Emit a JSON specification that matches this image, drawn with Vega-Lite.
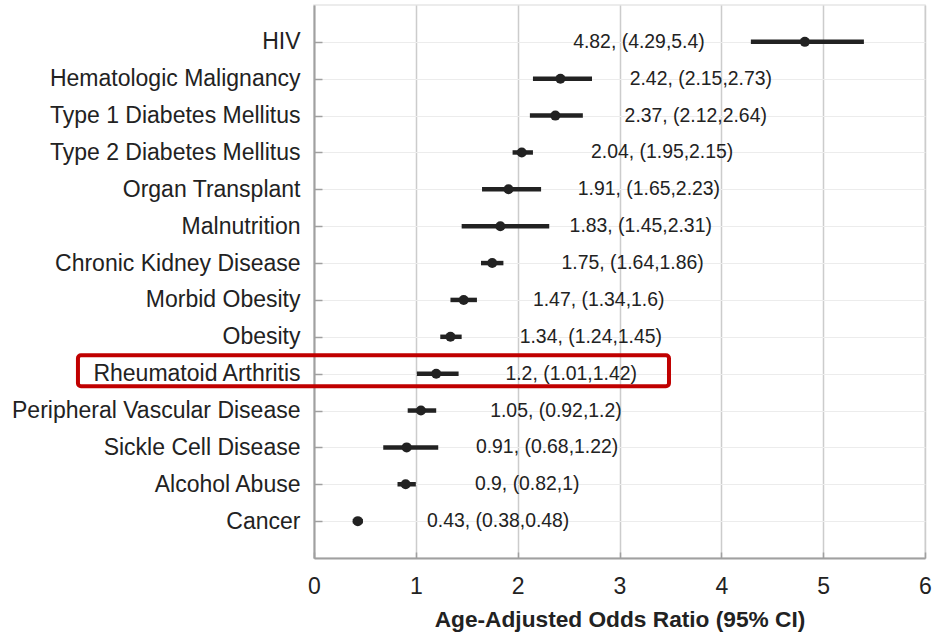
{
  "$schema": "https://vega.github.io/schema/vega-lite/v6.json",
  "autosize": {"type": "none"},
  "padding": {"left": 314, "top": 5, "right": 15, "bottom": 74},
  "width": 611,
  "height": 553,
  "background": "white",
  "config": {
    "font": "Liberation Sans",
    "view": {"stroke": "#e6e6e6", "strokeWidth": 1.5},
    "axis": {"labelFont": "Liberation Sans", "titleFont": "Liberation Sans"}
  },
  "data": {
    "values": [
      {"cond": "HIV", "est": 4.82, "lo": 4.29, "hi": 5.4, "label": "4.82, (4.29,5.4)"},
      {"cond": "Hematologic Malignancy", "est": 2.42, "lo": 2.15, "hi": 2.73, "label": "2.42, (2.15,2.73)"},
      {"cond": "Type 1 Diabetes Mellitus", "est": 2.37, "lo": 2.12, "hi": 2.64, "label": "2.37, (2.12,2.64)"},
      {"cond": "Type 2 Diabetes Mellitus", "est": 2.04, "lo": 1.95, "hi": 2.15, "label": "2.04, (1.95,2.15)"},
      {"cond": "Organ Transplant", "est": 1.91, "lo": 1.65, "hi": 2.23, "label": "1.91, (1.65,2.23)"},
      {"cond": "Malnutrition", "est": 1.83, "lo": 1.45, "hi": 2.31, "label": "1.83, (1.45,2.31)"},
      {"cond": "Chronic Kidney Disease", "est": 1.75, "lo": 1.64, "hi": 1.86, "label": "1.75, (1.64,1.86)"},
      {"cond": "Morbid Obesity", "est": 1.47, "lo": 1.34, "hi": 1.6, "label": "1.47, (1.34,1.6)"},
      {"cond": "Obesity", "est": 1.34, "lo": 1.24, "hi": 1.45, "label": "1.34, (1.24,1.45)"},
      {"cond": "Rheumatoid Arthritis", "est": 1.2, "lo": 1.01, "hi": 1.42, "label": "1.2, (1.01,1.42)"},
      {"cond": "Peripheral Vascular Disease", "est": 1.05, "lo": 0.92, "hi": 1.2, "label": "1.05, (0.92,1.2)"},
      {"cond": "Sickle Cell Disease", "est": 0.91, "lo": 0.68, "hi": 1.22, "label": "0.91, (0.68,1.22)"},
      {"cond": "Alcohol Abuse", "est": 0.9, "lo": 0.82, "hi": 1, "label": "0.9, (0.82,1)"},
      {"cond": "Cancer", "est": 0.43, "lo": 0.38, "hi": 0.48, "label": "0.43, (0.38,0.48)"}
    ]
  },
  "encoding": {
    "y": {
      "field": "cond",
      "type": "nominal",
      "sort": null,
      "scale": {"type": "point", "padding": 1},
      "axis": {
        "title": null,
        "labelFontSize": 23,
        "labelColor": "#222222",
        "labelLimit": 0,
        "labelPadding": 22,
        "tickSize": -8,
        "tickColor": "#a0a0a0",
        "tickWidth": 1.5,
        "domainColor": "#a0a0a0",
        "domainWidth": 2,
        "grid": true,
        "gridColor": "#ececec",
        "gridWidth": 1
      }
    }
  },
  "layer": [
    {
      "mark": {"type": "rule", "color": "#222222", "strokeWidth": 4.5},
      "encoding": {
        "x": {
          "field": "lo",
          "type": "quantitative",
          "scale": {"domain": [0, 6], "nice": false, "zero": false},
          "axis": {
            "values": [0, 1, 2, 3, 4, 5, 6],
            "format": "d",
            "labelFlush": false,
            "title": "Age-Adjusted Odds Ratio (95% CI)",
            "titleFontSize": 22.7,
            "titleFontWeight": "bold",
            "titleColor": "#222222",
            "titlePadding": 10,
            "labelFontSize": 23,
            "labelColor": "#222222",
            "labelPadding": 23,
            "tickSize": -6,
            "tickColor": "#a0a0a0",
            "tickWidth": 1.5,
            "domainColor": "#a0a0a0",
            "domainWidth": 2,
            "grid": true,
            "gridColor": "#cccccc",
            "gridWidth": 1.5
          }
        },
        "x2": {"field": "hi"}
      }
    },
    {
      "mark": {"type": "point", "filled": true, "color": "#222222", "size": 100, "opacity": 1},
      "encoding": {
        "x": {"field": "est", "type": "quantitative"}
      }
    },
    {
      "transform": [
        {"calculate": "datum.est > 4 ? datum.est - 2.275 : datum.est + 0.68", "as": "label_x"}
      ],
      "mark": {"type": "text", "align": "left", "baseline": "middle", "fontSize": 19.4, "color": "#222222"},
      "encoding": {
        "x": {"field": "label_x", "type": "quantitative"},
        "text": {"field": "label"}
      }
    },
    {
      "data": {"values": [{"cond": "Rheumatoid Arthritis", "x1": -2.318, "x2": 3.486}]},
      "mark": {"type": "rect", "fill": null, "fillOpacity": 0, "stroke": "#c00000", "strokeWidth": 4, "height": 31, "cornerRadius": 3, "clip": false},
      "encoding": {
        "x": {"field": "x1", "type": "quantitative"},
        "x2": {"field": "x2"},
        "yOffset": {"value": -3}
      }
    }
  ]
}
